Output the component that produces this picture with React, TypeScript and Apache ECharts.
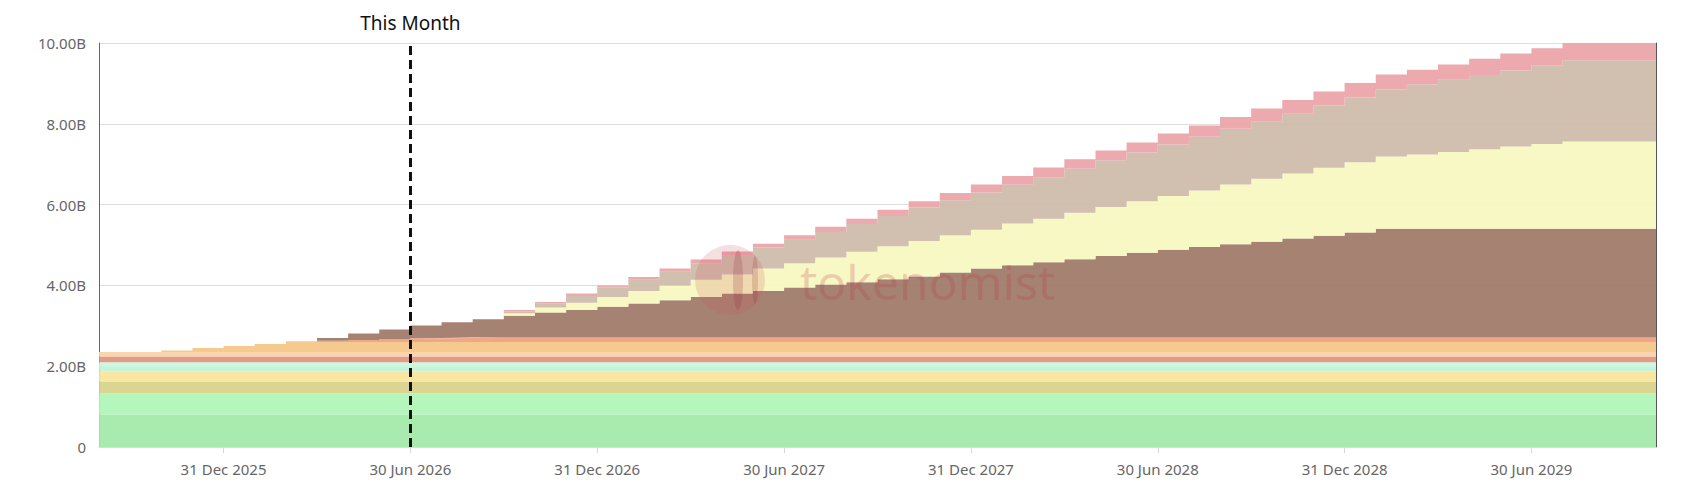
import React, { useEffect, useRef } from "react";
import * as echarts from "echarts";

// month-end dates, Aug 2025 .. Oct 2029
const months: string[] = [];
for (let y = 2025, m = 8; y < 2029 || (y === 2029 && m <= 10); m++) {
  if (m > 12) {
    m = 1;
    y++;
  }
  const last = new Date(Date.UTC(y, m, 0)).getUTCDate();
  months.push(`${y}-${String(m).padStart(2, "0")}-${last}`);
}
const MONTH_NAMES = ["Jan", "Feb", "Mar", "Apr", "May", "Jun", "Jul", "Aug", "Sep", "Oct", "Nov", "Dec"];
const THIS_MONTH = "2026-06-30";

// values in billions, per month (bottom layer first)
const greenDark = [0.8, 0.8, 0.8, 0.8, 0.8, 0.8, 0.8, 0.8, 0.8, 0.8, 0.8, 0.8, 0.8, 0.8, 0.8, 0.8, 0.8, 0.8, 0.8, 0.8, 0.8, 0.8, 0.8, 0.8, 0.8, 0.8, 0.8, 0.8, 0.8, 0.8, 0.8, 0.8, 0.8, 0.8, 0.8, 0.8, 0.8, 0.8, 0.8, 0.8, 0.8, 0.8, 0.8, 0.8, 0.8, 0.8, 0.8, 0.8, 0.8, 0.8, 0.8];
const greenLight = [0.53, 0.53, 0.53, 0.53, 0.53, 0.53, 0.53, 0.53, 0.53, 0.53, 0.53, 0.53, 0.53, 0.53, 0.53, 0.53, 0.53, 0.53, 0.53, 0.53, 0.53, 0.53, 0.53, 0.53, 0.53, 0.53, 0.53, 0.53, 0.53, 0.53, 0.53, 0.53, 0.53, 0.53, 0.53, 0.53, 0.53, 0.53, 0.53, 0.53, 0.53, 0.53, 0.53, 0.53, 0.53, 0.53, 0.53, 0.53, 0.53, 0.53, 0.53];
const olive = [0.29, 0.29, 0.29, 0.29, 0.29, 0.29, 0.29, 0.29, 0.29, 0.29, 0.29, 0.29, 0.29, 0.29, 0.29, 0.29, 0.29, 0.29, 0.29, 0.29, 0.29, 0.29, 0.29, 0.29, 0.29, 0.29, 0.29, 0.29, 0.29, 0.29, 0.29, 0.29, 0.29, 0.29, 0.29, 0.29, 0.29, 0.29, 0.29, 0.29, 0.29, 0.29, 0.29, 0.29, 0.29, 0.29, 0.29, 0.29, 0.29, 0.29, 0.29];
const yellow = [0.25, 0.25, 0.25, 0.25, 0.25, 0.25, 0.25, 0.25, 0.25, 0.25, 0.25, 0.25, 0.25, 0.25, 0.25, 0.25, 0.25, 0.25, 0.25, 0.25, 0.25, 0.25, 0.25, 0.25, 0.25, 0.25, 0.25, 0.25, 0.25, 0.25, 0.25, 0.25, 0.25, 0.25, 0.25, 0.25, 0.25, 0.25, 0.25, 0.25, 0.25, 0.25, 0.25, 0.25, 0.25, 0.25, 0.25, 0.25, 0.25, 0.25, 0.25];
const mintA = [0.11, 0.11, 0.11, 0.11, 0.11, 0.11, 0.11, 0.11, 0.11, 0.11, 0.11, 0.11, 0.11, 0.11, 0.11, 0.11, 0.11, 0.11, 0.11, 0.11, 0.11, 0.11, 0.11, 0.11, 0.11, 0.11, 0.11, 0.11, 0.11, 0.11, 0.11, 0.11, 0.11, 0.11, 0.11, 0.11, 0.11, 0.11, 0.11, 0.11, 0.11, 0.11, 0.11, 0.11, 0.11, 0.11, 0.11, 0.11, 0.11, 0.11, 0.11];
const mintB = [0.12, 0.12, 0.12, 0.12, 0.12, 0.12, 0.12, 0.12, 0.12, 0.12, 0.12, 0.12, 0.12, 0.12, 0.12, 0.12, 0.12, 0.12, 0.12, 0.12, 0.12, 0.12, 0.12, 0.12, 0.12, 0.12, 0.12, 0.12, 0.12, 0.12, 0.12, 0.12, 0.12, 0.12, 0.12, 0.12, 0.12, 0.12, 0.12, 0.12, 0.12, 0.12, 0.12, 0.12, 0.12, 0.12, 0.12, 0.12, 0.12, 0.12, 0.12];
const red = [0.14, 0.14, 0.14, 0.14, 0.14, 0.14, 0.14, 0.14, 0.14, 0.14, 0.14, 0.14, 0.14, 0.14, 0.14, 0.14, 0.14, 0.14, 0.14, 0.14, 0.14, 0.14, 0.14, 0.14, 0.14, 0.14, 0.14, 0.14, 0.14, 0.14, 0.14, 0.14, 0.14, 0.14, 0.14, 0.14, 0.14, 0.14, 0.14, 0.14, 0.14, 0.14, 0.14, 0.14, 0.14, 0.14, 0.14, 0.14, 0.14, 0.14, 0.14];
const peach = [0.11, 0.11, 0.11, 0.11, 0.11, 0.11, 0.11, 0.11, 0.11, 0.11, 0.11, 0.11, 0.11, 0.11, 0.11, 0.11, 0.11, 0.11, 0.11, 0.11, 0.11, 0.11, 0.11, 0.11, 0.11, 0.11, 0.11, 0.11, 0.11, 0.11, 0.11, 0.11, 0.11, 0.11, 0.11, 0.11, 0.11, 0.11, 0.11, 0.11, 0.11, 0.11, 0.11, 0.11, 0.11, 0.11, 0.11, 0.11, 0.11, 0.11, 0.11];
const orange = [0, 0, 0.04, 0.1, 0.15, 0.2, 0.25, 0.25, 0.25, 0.25, 0.25, 0.25, 0.25, 0.25, 0.25, 0.25, 0.25, 0.25, 0.25, 0.25, 0.25, 0.25, 0.25, 0.25, 0.25, 0.25, 0.25, 0.25, 0.25, 0.25, 0.25, 0.25, 0.25, 0.25, 0.25, 0.25, 0.25, 0.25, 0.25, 0.25, 0.25, 0.25, 0.25, 0.25, 0.25, 0.25, 0.25, 0.25, 0.25, 0.25, 0.25];
const salmon = [0, 0, 0, 0, 0, 0, 0.01, 0.03, 0.05, 0.07, 0.09, 0.1, 0.11, 0.11, 0.11, 0.11, 0.11, 0.11, 0.11, 0.11, 0.11, 0.11, 0.11, 0.11, 0.11, 0.11, 0.11, 0.11, 0.11, 0.11, 0.11, 0.11, 0.11, 0.11, 0.11, 0.11, 0.11, 0.11, 0.11, 0.11, 0.11, 0.11, 0.11, 0.11, 0.11, 0.11, 0.11, 0.11, 0.11, 0.11, 0.11];
const brown = [0, 0, 0, 0, 0, 0, 0, 0.07, 0.16, 0.24, 0.32, 0.39, 0.45, 0.54, 0.62, 0.68, 0.76, 0.84, 0.92, 1.0, 1.09, 1.15, 1.24, 1.31, 1.37, 1.44, 1.51, 1.61, 1.71, 1.79, 1.86, 1.94, 2.02, 2.1, 2.17, 2.24, 2.31, 2.37, 2.45, 2.52, 2.6, 2.69, 2.69, 2.69, 2.69, 2.69, 2.69, 2.69, 2.69, 2.69, 2.69];
const paleYellow = [0, 0, 0, 0, 0, 0, 0, 0, 0, 0, 0, 0, 0, 0.06, 0.12, 0.18, 0.24, 0.31, 0.37, 0.43, 0.47, 0.56, 0.6, 0.67, 0.75, 0.82, 0.88, 0.92, 0.96, 1.03, 1.08, 1.15, 1.21, 1.27, 1.33, 1.4, 1.48, 1.56, 1.61, 1.68, 1.74, 1.79, 1.84, 1.9, 1.97, 2.04, 2.1, 2.16, 2.16, 2.16, 2.16];
const tan = [0, 0, 0, 0, 0, 0, 0, 0, 0, 0, 0, 0, 0, 0.05, 0.11, 0.17, 0.24, 0.28, 0.34, 0.41, 0.48, 0.52, 0.58, 0.63, 0.69, 0.75, 0.83, 0.87, 0.92, 0.96, 1.03, 1.09, 1.16, 1.21, 1.28, 1.33, 1.38, 1.41, 1.48, 1.54, 1.6, 1.66, 1.73, 1.79, 1.84, 1.88, 1.95, 2.01, 2.01, 2.01, 2.01];
const pink = [0, 0, 0, 0, 0, 0, 0, 0, 0, 0, 0, 0, 0, 0.03, 0.03, 0.06, 0.05, 0.07, 0.08, 0.09, 0.09, 0.09, 0.11, 0.13, 0.13, 0.15, 0.15, 0.18, 0.2, 0.22, 0.24, 0.23, 0.24, 0.25, 0.27, 0.28, 0.29, 0.33, 0.34, 0.35, 0.36, 0.37, 0.37, 0.38, 0.4, 0.42, 0.42, 0.43, 0.43, 0.43, 0.43];

const layers: [string, number[], string][] = [
  ["Green A", greenDark, "#a2e9a7"],
  ["Green B", greenLight, "#aff5b7"],
  ["Olive", olive, "#d7d389"],
  ["Yellow", yellow, "#f8e599"],
  ["Mint A", mintA, "#c2f2d8"],
  ["Mint B", mintB, "#c8f6de"],
  ["Red", red, "#e0927c"],
  ["Peach", peach, "#f8d0a6"],
  ["Orange", orange, "#f5c686"],
  ["Salmon", salmon, "#efa07f"],
  ["Brown", brown, "#9e7767"],
  ["Pale Yellow", paleYellow, "#f6f7bf"],
  ["Tan", tan, "#cdbaa8"],
  ["Pink", pink, "#eaa2a7"],
];

const fmtDate = (s: string) => {
  const [y, m, d] = s.split("-");
  return `${d} ${MONTH_NAMES[Number(m) - 1]} ${y}`;
};
const isTickMonth = (i: number) => {
  const m = months[i].slice(5, 7);
  return m === "06" || m === "12";
};

const App: React.FC = () => {
  const chartRef = useRef<HTMLDivElement | null>(null);

  useEffect(() => {
    document.body.style.margin = "0";
    if (!chartRef.current) return;
    const chart = echarts.init(chartRef.current, undefined, { renderer: "svg" });

    const series: any[] = layers.map(([name, data, color], idx) => ({
      name,
      type: "line",
      stack: "supply",
      step: "end",
      data,
      symbol: "none",
      lineStyle: { width: 0 },
      areaStyle: { color, opacity: 0.92 },
      z: 2,
      ...(idx === layers.length - 1
        ? {
            markLine: {
              silent: true,
              symbol: "none",
              z: 10,
              lineStyle: { color: "#111", type: [9, 5], width: 3 },
              label: {
                formatter: "This Month",
                position: "end",
                distance: 11,
                color: "#111",
                fontSize: 19,
                fontFamily: "Noto Sans",
              },
              data: [{ xAxis: THIS_MONTH }],
            },
          }
        : {}),
    }));

    // watermark
    const mark = "rgba(185,55,65,0.22)";
    const graphic = [
      { type: "circle", z: 100, silent: true, shape: { cx: 730, cy: 280, r: 35 }, style: { fill: "rgba(205,80,90,0.18)" } },
      { type: "ellipse", z: 101, silent: true, shape: { cx: 738, cy: 280, rx: 5, ry: 30 }, style: { fill: "rgba(140,40,45,0.2)" } },
      { type: "ellipse", z: 101, silent: true, shape: { cx: 755, cy: 280, rx: 3, ry: 24 }, style: { fill: "rgba(140,40,45,0.18)" } },
      {
        type: "text",
        z: 100,
        silent: true,
        x: 800,
        y: 281,
        style: {
          text: "tokenomist",
          fontSize: 48,
          fontFamily: "Noto Sans",
          fill: mark,
          verticalAlign: "middle",
        },
      },
    ];

    chart.setOption({
      animation: false,
      textStyle: { fontFamily: "Noto Sans" },
      grid: { left: 99, right: 27, top: 43, bottom: 51, containLabel: false },
      xAxis: {
        type: "category",
        boundaryGap: false,
        data: months,
        axisLine: { lineStyle: { color: "#dcdcdc" } },
        axisTick: {
          interval: (i: number) => isTickMonth(i),
          length: 6,
          lineStyle: { color: "#d8d8d8" },
        },
        axisLabel: {
          interval: (i: number) => isTickMonth(i),
          formatter: (v: string) => fmtDate(v),
          color: "#666",
          fontSize: 15,
          margin: 14,
        },
        splitLine: { show: false },
      },
      yAxis: [
        {
          type: "value",
          min: 0,
          max: 10,
          interval: 2,
          axisLine: { show: true, lineStyle: { color: "#666" } },
          axisTick: { show: false },
          axisLabel: {
            formatter: (v: number) => (v === 0 ? "0" : `${v.toFixed(2)}B`),
            color: "#666",
            fontSize: 15,
            margin: 13,
          },
          splitLine: { lineStyle: { color: "#dedede" } },
        },
        {
          type: "value",
          position: "right",
          min: 0,
          max: 10,
          interval: 2,
          axisLine: { show: true, lineStyle: { color: "#555" } },
          axisTick: { show: false },
          axisLabel: { show: false },
          splitLine: { show: false },
        },
      ],
      graphic,
      series,
    });

    return () => {
      chart.dispose();
    };
  }, []);

  return <div ref={chartRef} style={{ width: "1683px", height: "498px" }} />;
};

export default App;
